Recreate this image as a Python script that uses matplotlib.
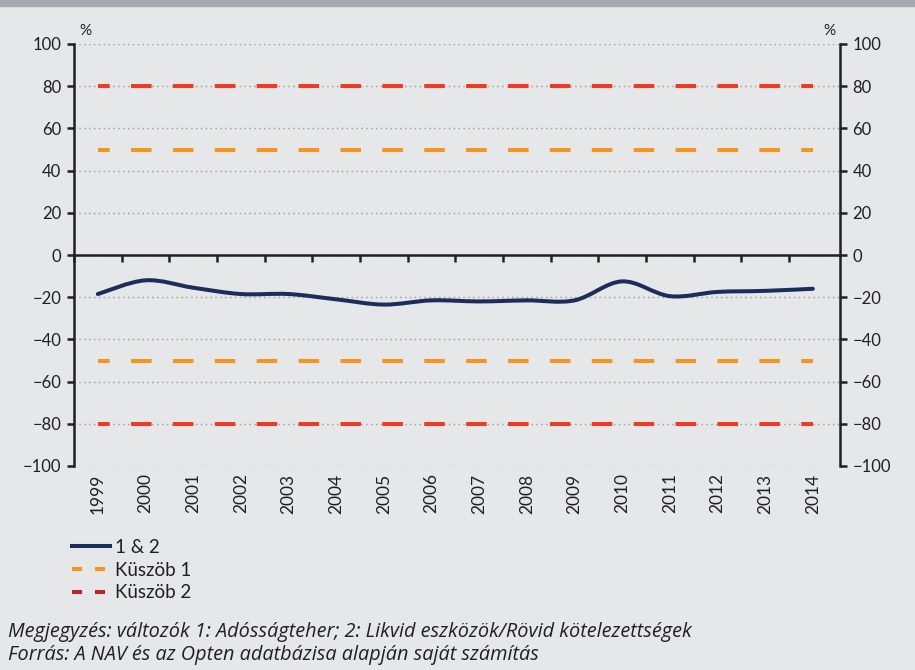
import numpy as np
import matplotlib
matplotlib.use('Agg')
import matplotlib.pyplot as plt
from matplotlib.path import Path
from matplotlib.patches import PathPatch, Rectangle
from matplotlib.lines import Line2D

plt.rcParams['font.family'] = ['Lato', 'DejaVu Sans']

years = ['1999', '2000', '2001', '2002', '2003', '2004', '2005', '2006',
         '2007', '2008', '2009', '2010', '2011', '2012', '2013', '2014']
ratio = [-18.5, -12, -15.5, -18.5, -18.5, -21, -23.5, -21.5,
         -22, -21.5, -21.5, -12.5, -19.5, -17.5, -17, -16]
kuszob1 = 50
kuszob2 = 80

navy = '#1c2d5c'
orange = '#f7941d'
red = '#ef3a24'
red_leg = '#b8262c'
bg = '#e6e7e9'

fig = plt.figure(figsize=(9.15, 6.70), dpi=100, facecolor=bg)
fig.patches.append(Rectangle((0, 1 - 6/670), 1, 6/670, transform=fig.transFigure,
                             color='#a7a9ac', zorder=0))
ax = fig.add_axes([74/915, (670-466)/670, (840-74)/915, (466-44)/670])
ax.set_facecolor(bg)

x = np.arange(len(years))
ax.set_xlim(-0.48, 15.57)
ax.set_ylim(-100, 100)

# dotted grid
for yv in range(-100, 101, 20):
    ax.axhline(yv, color='#9a9a9a', lw=1, ls=(0, (1, 2.5)), zorder=1)

# threshold lines
for v, c in [(kuszob1, orange), (-kuszob1, orange), (kuszob2, red), (-kuszob2, red)]:
    ax.plot([x[0], x[-1]], [v, v], color=c, lw=2.9, ls=(2.2, (5.1, 5.3)),
            dash_capstyle='butt', zorder=3)

# smoothed line (Catmull-Rom -> Bezier, like Excel)
pts = np.column_stack([x, ratio]).astype(float)
verts = [tuple(pts[0])]
codes = [Path.MOVETO]
n = len(pts)
for i in range(n - 1):
    p0 = pts[max(i - 1, 0)]
    p1 = pts[i]
    p2 = pts[i + 1]
    p3 = pts[min(i + 2, n - 1)]
    c1 = p1 + (p2 - p0) / 6
    c2 = p2 - (p3 - p1) / 6
    verts += [tuple(c1), tuple(c2), tuple(p2)]
    codes += [Path.CURVE4] * 3
ax.add_patch(PathPatch(Path(verts, codes), fill=False, edgecolor=navy, lw=2.9,
                       capstyle='round', zorder=4))

# spines
ax.spines['top'].set_visible(False)
ax.spines['bottom'].set_position(('data', 0))
for s in ['left', 'right', 'bottom']:
    ax.spines[s].set_linewidth(1.8)
    ax.spines[s].set_color('#231f20')

ax.set_yticks(range(-100, 101, 20))
ax.set_yticklabels([str(v).replace('-', '\u2212') for v in range(-100, 101, 20)])
ax.tick_params(axis='y', which='both', direction='out', length=5, width=1.8,
               labelsize=12, colors='#231f20', left=True, right=True,
               labelleft=True, labelright=True, pad=4)

ax.set_xticks(np.arange(-0.5, 15.5, 1.0))
ax.tick_params(axis='x', direction='out', length=5, width=1.8, colors='#231f20',
               labelbottom=False)

for xi, yr in zip(x, years):
    ax.text(xi, -103.5, yr, rotation=90, ha='center', va='top', fontsize=12.5,
            color='#231f20')

ax.text(-0.38, 103, '%', ha='left', va='bottom', fontsize=11, color='#231f20')
ax.text(15.22, 103, '%', ha='left', va='bottom', fontsize=11, color='#231f20')

handles = [Line2D([], [], color=navy, lw=2.9),
           Line2D([], [], color=orange, lw=2.9, dashes=(2.5, 3.2)),
           Line2D([], [], color=red_leg, lw=2.9, dashes=(2.5, 3.2))]
fig.legend(handles, ['1 & 2', 'K\u00fcsz\u00f6b 1', 'K\u00fcsz\u00f6b 2'],
           loc='upper left', bbox_to_anchor=(72/915, 1 - 539/670), frameon=False,
           fontsize=13.5, handlelength=2.0, handletextpad=0.3, labelspacing=0.3,
           borderpad=0, borderaxespad=0, labelcolor='#231f20')

foot = dict(style='italic', fontsize=14.3, va='center', color='#231f20',
            family=['Open Sans', 'DejaVu Sans'])
fig.text(8/915, 1 - 632/670, 'Megjegyz\u00e9s: v\u00e1ltoz\u00f3k 1: Ad\u00f3ss\u00e1gteher; 2: Likvid eszk\u00f6z\u00f6k/R\u00f6vid k\u00f6telezetts\u00e9gek',
         **foot)
fig.text(8/915, 1 - 655/670, 'Forr\u00e1s: A NAV \u00e9s az Opten adatb\u00e1zisa alapj\u00e1n saj\u00e1t sz\u00e1m\u00edt\u00e1s',
         **foot)

fig.savefig('out.png', dpi=100, facecolor=bg)
